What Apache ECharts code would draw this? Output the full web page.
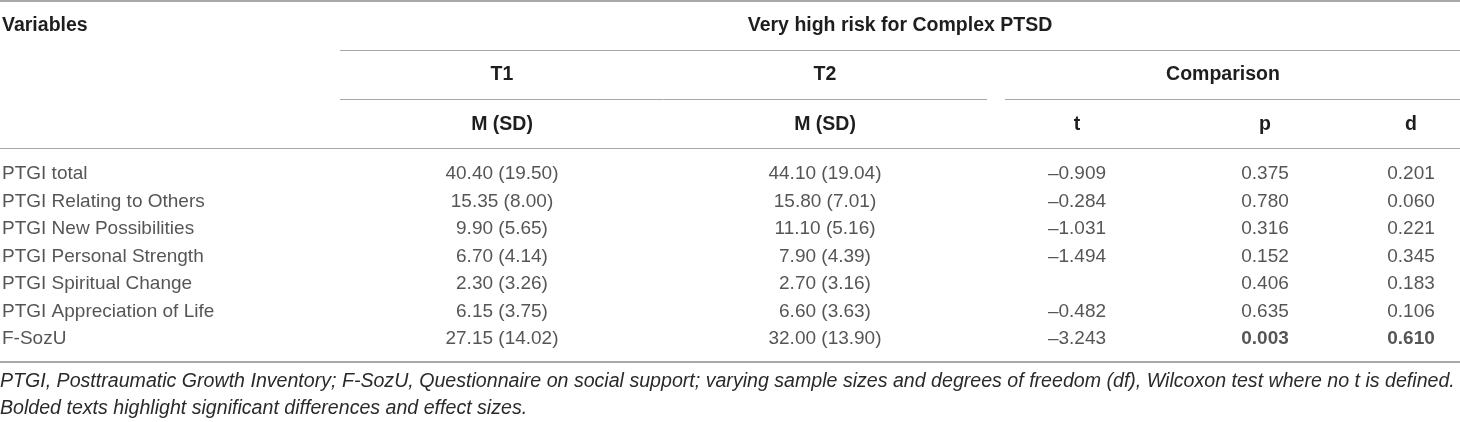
<!DOCTYPE html>
<html>
<head>
<meta charset="utf-8">
<script src="https://cdn.jsdelivr.net/npm/echarts@6/dist/echarts.min.js"></script>
<style>
  html, body { margin: 0; padding: 0; background: #ffffff; }
  #chart { width: 1460px; height: 422px; }
</style>
</head>
<body>
<div id="chart"></div>
<script>
// ---------------- data ----------------
const variables = [
  'PTGI total',
  'PTGI Relating to Others',
  'PTGI New Possibilities',
  'PTGI Personal Strength',
  'PTGI Spiritual Change',
  'PTGI Appreciation of Life',
  'F-SozU'
];
const t1Mean = [40.40, 15.35, 9.90, 6.70, 2.30, 6.15, 27.15];
const t1SD   = [19.50, 8.00, 5.65, 4.14, 3.26, 3.75, 14.02];
const t2Mean = [44.10, 15.80, 11.10, 7.90, 2.70, 6.60, 32.00];
const t2SD   = [19.04, 7.01, 5.16, 4.39, 3.16, 3.63, 13.90];
const tValues = [-0.909, -0.284, -1.031, -1.494, null, -0.482, -3.243];
const pValues = [0.375, 0.780, 0.316, 0.152, 0.406, 0.635, 0.003];
const dValues = [0.201, 0.060, 0.221, 0.345, 0.183, 0.106, 0.610];
const boldRows = [false, false, false, false, false, false, true];

const headerTop = 'Very high risk for Complex PTSD';
const headerGroups = ['T1', 'T2', 'Comparison'];
const headerCols = ['M (SD)', 'M (SD)', 't', 'p', 'd'];
const footnotes = [
  'PTGI, Posttraumatic Growth Inventory; F-SozU, Questionnaire on social support; varying sample sizes and degrees of freedom (df), Wilcoxon test where no t is defined.',
  'Bolded texts highlight significant differences and effect sizes.'
];

// ---------------- layout ----------------
const W = 1460;
const colX = [502, 825, 1077, 1265, 1411];   // column centres
const groupX = [502, 825, 1223];
const FONT = '"Liberation Sans", Arial, Helvetica, sans-serif';
const FS = 19;
const TEXT = '#2a2a2a';
const LINE = '#a8a8a8';

function fmt(v, d) {
  return v.toFixed(d).replace('-', '\u2013');
}

const cellLabel = {
  show: true,
  position: 'inside',
  align: 'center',
  verticalAlign: 'middle',
  fontFamily: FONT,
  fontSize: FS,
  color: TEXT
};

function columnSeries(x, texts, bolds) {
  const data = [];
  texts.forEach((txt, i) => {
    if (txt === null) return;
    const item = { value: [x, i], name: txt };
    if (bolds && bolds[i]) item.label = { fontWeight: 'bold' };
    data.push(item);
  });
  return {
    type: 'scatter',
    symbolSize: 0,
    silent: true,
    data: data,
    label: Object.assign({}, cellLabel, { formatter: p => p.name })
  };
}

const t1Text = t1Mean.map((m, i) => fmt(m, 2) + ' (' + fmt(t1SD[i], 2) + ')');
const t2Text = t2Mean.map((m, i) => fmt(m, 2) + ' (' + fmt(t2SD[i], 2) + ')');
const tText = tValues.map(v => v === null ? null : fmt(v, 3));
const pText = pValues.map(v => fmt(v, 3));
const dText = dValues.map(v => fmt(v, 3));

const varSeries = {
  type: 'scatter',
  symbolSize: 0,
  silent: true,
  data: variables.map((v, i) => ({ value: [2, i], name: v })),
  label: Object.assign({}, cellLabel, { align: 'left', formatter: p => p.name })
};

function hline(x1, x2, y, w) {
  return {
    type: 'line',
    silent: true,
    shape: { x1: x1, y1: y, x2: x2, y2: y },
    style: { stroke: LINE, lineWidth: w || 1 }
  };
}
function htext(txt, x, y, align, extra) {
  return {
    type: 'text',
    silent: true,
    x: x, y: y,
    style: Object.assign({
      text: txt,
      fontFamily: FONT,
      fontSize: 19.5,
      fontWeight: 'bold',
      fill: '#1e1e1e',
      align: align || 'center',
      verticalAlign: 'middle'
    }, extra || {})
  };
}

const graphics = [
  hline(0, W, 1, 2),
  hline(340, W, 50.5),
  hline(340, 987, 99.5),
  hline(1005, W, 99.5),
  hline(0, W, 148.5),
  hline(0, W, 362, 2),
  htext('Variables', 2, 26, 'left'),
  htext(headerTop, 900, 26),
  htext(headerGroups[0], groupX[0], 75),
  htext(headerGroups[1], groupX[1], 75),
  htext(headerGroups[2], groupX[2], 75)
];
headerCols.forEach((h, i) => graphics.push(htext(h, colX[i], 125)));
footnotes.forEach((f, i) => graphics.push(
  htext(f, 0, 382 + i * 27, 'left', { fontWeight: 'normal', fontStyle: 'italic', fontSize: 19.6, fill: TEXT })
));

const chart = echarts.init(document.getElementById('chart'));
chart.setOption({
  animation: false,
  backgroundColor: '#ffffff',
  grid: { left: 0, right: 0, top: 160.5, height: 192.5, containLabel: false },
  xAxis: { type: 'value', min: 0, max: W, show: false },
  yAxis: { type: 'category', data: variables, inverse: true, show: false },
  graphic: graphics,
  series: [
    varSeries,
    columnSeries(colX[0], t1Text),
    columnSeries(colX[1], t2Text),
    columnSeries(colX[2], tText),
    columnSeries(colX[3], pText, boldRows),
    columnSeries(colX[4], dText, boldRows)
  ]
});
</script>
</body>
</html>
